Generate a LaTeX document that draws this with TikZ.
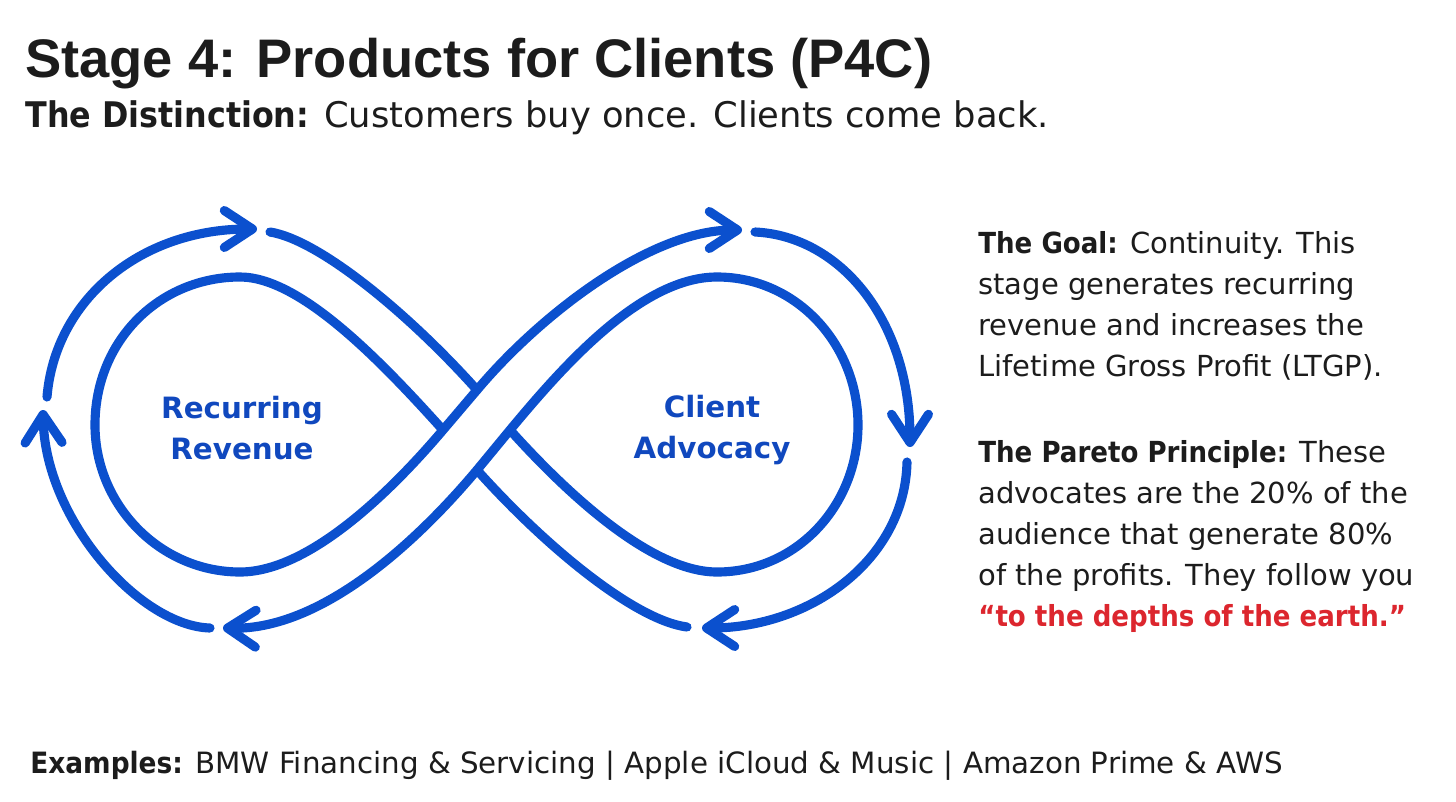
\documentclass[tikz,border=0pt]{standalone}
\usepackage{fontspec}
\setmainfont{DejaVu Sans}
\newfontfamily\headfont{Liberation Sans}
\newfontfamily\tightsans{DejaVu Sans}[FakeStretch=0.9]
\newcommand{\keyterm}[1]{{\tightsans\bfseries #1}}
\definecolor{infblue}{RGB}{11,80,206}
\definecolor{lblblue}{RGB}{16,72,190}
\definecolor{quotered}{RGB}{220,38,46}
\definecolor{inkgray}{RGB}{28,28,28}
\usetikzlibrary{arrows.meta}

\begin{document}
\begin{tikzpicture}[x=0.02cm, y=-0.02cm, every node/.style={inner sep=0pt, text=inkgray},
  band/.style={draw=infblue, line width=5.2pt, line cap=round, line join=round},
  arr/.style={band, -{Straight Barb[length=16pt, width=21pt, round]}},
  body/.style={font=\fontsize{16.5}{23.4}\selectfont, align=left, anchor=north west},
  lbl/.style={font=\fontsize{16.7}{23.2}\selectfont\bfseries, text=lblblue, align=center}]
\useasboundingbox (0,0) rectangle (1456,801);
% Heading
\node[anchor=base west, font=\headfont\fontsize{30.9}{36}\selectfont\bfseries] (title) at (25,77) {Stage 4: Products for Clients (P4C)};
\node[anchor=base west, font=\fontsize{20.1}{24}\selectfont] (subtitle) at (25,127) {\keyterm{The Distinction:} Customers buy once. Clients come back.};
% Crossing
\coordinate (cTop) at (477,390);
\coordinate (cLeft) at (443,430);
\coordinate (cBot) at (477,470);
\coordinate (cRight) at (510,430);
% Outer arcs
\draw[arr] (47,397) .. controls (55,300) and (140,229) .. (257,229);
\draw[arr] (210,628) .. controls (140,626) and (45,520) .. (43,410);
\draw[arr] (755,232) .. controls (840,236) and (910,320) .. (910,447);
\draw[arr] (907,462) .. controls (905,560) and (810,628) .. (702,628);
\draw[band] (270,232) .. controls (320,240) and (410,315) .. (cTop);
\draw[band] (687,627) .. controls (634,620) and (544,545) .. (cBot);
% Loops
\draw[arr] (cLeft) .. controls (380,360) and (300,277) .. (240,277)
  .. controls (160,277) and (95,340) .. (95,425)
  .. controls (95,505) and (160,572) .. (240,572)
  .. controls (310,572) and (393,489) .. (cLeft) -- (cTop)
  .. controls (540,315) and (650,230) .. (742,230);
\draw[arr] (cRight) .. controls (573,500) and (654,572) .. (717,572)
  .. controls (797,572) and (858,505) .. (858,425)
  .. controls (858,345) and (797,277) .. (717,277)
  .. controls (640,277) and (560,370) .. (cRight) -- (cBot)
  .. controls (414,545) and (320,630) .. (223,628);
\node[lbl] (recurring) at (242,428) {Recurring\\Revenue};
\node[lbl] (advocacy) at (712,430) {Client\\Advocacy};
% Notes
\node[body] (goal) at (978,231) {\keyterm{The Goal:} Continuity. This\\stage generates recurring\\revenue and increases the\\Lifetime Gross Profit (LTGP).};
\node[body] (pareto) at (978,440) {\keyterm{The Pareto Principle:} These\\advocates are the 20\% of the\\audience that generate 80\%\\of the profits. They follow you\\\textcolor{quotered}{\keyterm{“to the depths of the earth.”}}};
\node[anchor=base west, font=\fontsize{16.7}{20}\selectfont] (examples) at (30,773) {\keyterm{Examples:} BMW Financing \& Servicing | Apple iCloud \& Music | Amazon Prime \& AWS};
\end{tikzpicture}
\end{document}
